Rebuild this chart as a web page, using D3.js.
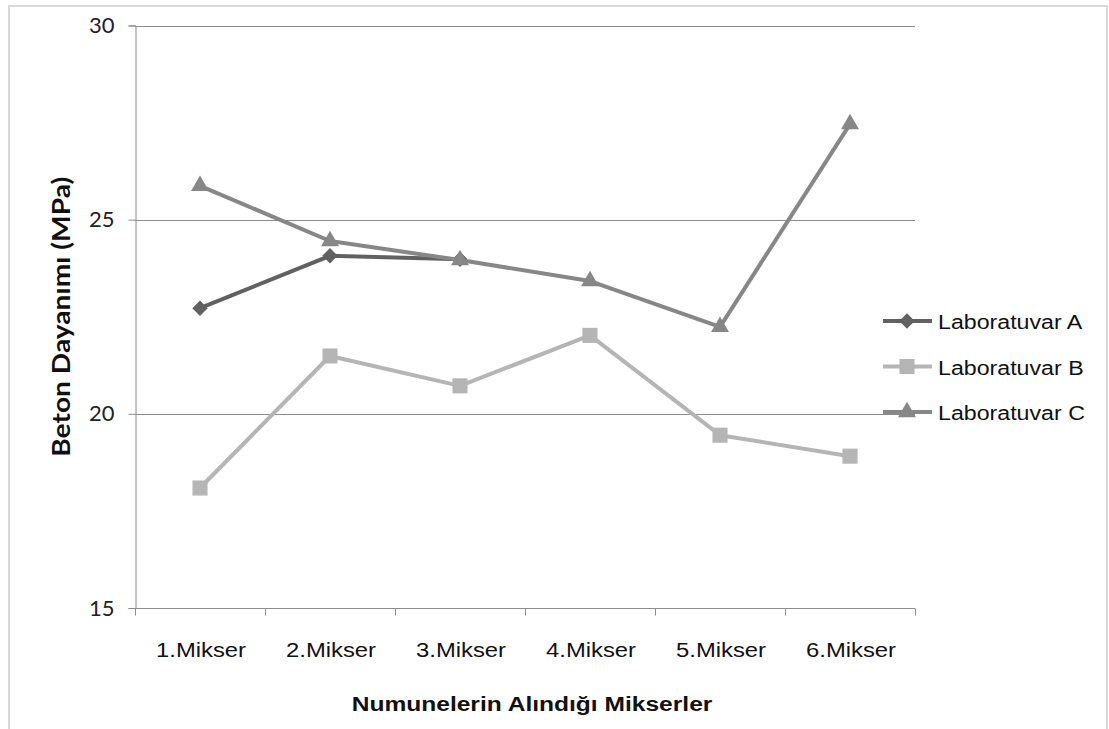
<!DOCTYPE html>
<html>
<head>
<meta charset="utf-8">
<script src="https://cdn.jsdelivr.net/npm/d3@7"></script>
<style>
  html, body { margin: 0; padding: 0; background: #fff; }
  svg { display: block; }
</style>
</head>
<body>
<svg id="chart" width="1109" height="729"></svg>
<script>
// Mixer categories and compressive strength per laboratory (MPa)
const categories = ["1.Mikser", "2.Mikser", "3.Mikser", "4.Mikser", "5.Mikser", "6.Mikser"];
const labA = [22.72, 24.07, 23.98, null, null, null];
const labB = [18.09, 21.49, 20.72, 22.02, 19.45, 18.91];
const labC = [25.87, 24.45, 23.96, 23.42, 22.24, 27.46];
const seriesNames = ["Laboratuvar A", "Laboratuvar B", "Laboratuvar C"];
const yTicks = [15, 20, 25, 30];

const yTitle = "Beton Dayanımı (MPa)";
const xTitle = "Numunelerin Alındığı Mikserler";

const series = [
  { name: seriesNames[0], values: labA, color: "#616161", shape: d3.symbolDiamond2, size: 150 },
  { name: seriesNames[1], values: labB, color: "#b5b5b5", shape: d3.symbolSquare2, size: 290 },
  { name: seriesNames[2], values: labC, color: "#878787", shape: d3.symbolTriangle2, size: 230 }
];

const svg = d3.select("#chart");
const plotLeft = 135, plotRight = 915, plotTop = 25.5, plotBottom = 608;

// outer frame
svg.append("rect")
  .attr("x", 9).attr("y", 6).attr("width", 1098).attr("height", 740)
  .attr("fill", "#fff").attr("stroke", "#d9d9d9").attr("stroke-width", 2);

const x = d3.scaleBand().domain(categories).range([plotLeft, plotRight]);
const y = d3.scaleLinear().domain([15, 30]).range([plotBottom, plotTop]);

// horizontal gridlines
svg.append("g").selectAll("line").data(yTicks.filter(t => t > 15)).join("line")
  .attr("x1", plotLeft).attr("x2", plotRight)
  .attr("y1", d => Math.round(y(d)) + 0.5).attr("y2", d => Math.round(y(d)) + 0.5)
  .attr("stroke", "#8c8c8c").attr("stroke-width", 1);

// y axis
const yAxis = svg.append("g")
  .attr("transform", `translate(${plotLeft + 0.5},0)`)
  .call(d3.axisLeft(y).tickValues(yTicks).tickSize(7).tickPadding(14).tickFormat(d3.format("d")));
yAxis.select(".domain").attr("stroke", "#8c8c8c");
yAxis.selectAll(".tick line").attr("stroke", "#8c8c8c");
yAxis.selectAll(".tick text")
  .attr("font-family", "Lato, 'Open Sans', sans-serif")
  .attr("font-size", 22).attr("fill", "#222");

// x axis with ticks on category boundaries
const xAxisG = svg.append("g").attr("transform", `translate(0,${Math.round(plotBottom) + 0.5})`);
xAxisG.append("line").attr("x1", plotLeft).attr("x2", plotRight).attr("stroke", "#8c8c8c");
const bounds = categories.map(c => x(c)).concat([x(categories[categories.length - 1]) + x.bandwidth()]);
xAxisG.selectAll("line.tk").data(bounds).join("line").attr("class", "tk")
  .attr("x1", d => Math.round(d) + 0.5).attr("x2", d => Math.round(d) + 0.5)
  .attr("y1", 0).attr("y2", 7).attr("stroke", "#8c8c8c");
xAxisG.selectAll("text").data(categories).join("text")
  .attr("transform", d => `translate(${x(d) + x.bandwidth() / 2 + 1},48) scale(1.19,1)`)
  .attr("text-anchor", "middle")
  .attr("font-family", "'Liberation Sans', Arial, sans-serif")
  .attr("font-size", 20).attr("fill", "#111")
  .text(d => d);

// axis titles
svg.append("text")
  .attr("transform", `translate(70,${(plotTop + plotBottom) / 2}) rotate(-90)`)
  .attr("text-anchor", "middle")
  .attr("font-family", "Lato, 'Open Sans', sans-serif")
  .attr("font-weight", "bold").attr("font-size", 24).attr("fill", "#111")
  .attr("textLength", 280).attr("lengthAdjust", "spacingAndGlyphs")
  .text(yTitle);

svg.append("text")
  .attr("transform", `translate(532,711) scale(1.17,1)`)
  .attr("text-anchor", "middle")
  .attr("font-family", "'Liberation Sans', Arial, sans-serif")
  .attr("font-weight", "bold").attr("font-size", 21).attr("fill", "#111")
  .text(xTitle);

// series lines and markers
const cx = (i) => x(categories[i]) + x.bandwidth() / 2;
const line = d3.line().defined(d => d != null).x((d, i) => cx(i)).y(d => y(d));

series.forEach(s => {
  const g = svg.append("g");
  g.append("path").datum(s.values)
    .attr("d", line).attr("fill", "none")
    .attr("stroke", s.color).attr("stroke-width", 4).attr("stroke-linejoin", "round");
  const pts = s.values.map((v, i) => ({ v, i })).filter(p => p.v != null);
  g.selectAll("path.m").data(pts).join("path").attr("class", "m")
    .attr("d", d3.symbol().type(s.shape).size(s.size))
    .attr("transform", p => `translate(${cx(p.i)},${y(p.v)})`)
    .attr("fill", s.color);
});

// legend
const legend = svg.append("g");
series.forEach((s, k) => {
  const ly = 321 + k * 45.5;
  legend.append("line").attr("x1", 883).attr("x2", 932).attr("y1", ly).attr("y2", ly)
    .attr("stroke", s.color).attr("stroke-width", 4);
  legend.append("path")
    .attr("d", d3.symbol().type(s.shape).size(s.size))
    .attr("transform", `translate(907,${ly})`).attr("fill", s.color);
  legend.append("text")
    .attr("transform", `translate(938,${ly + 8}) scale(1.16,1)`)
    .attr("font-family", "'Liberation Sans', Arial, sans-serif")
    .attr("font-size", 20).attr("fill", "#111")
    .text(s.name);
});
</script>
</body>
</html>
